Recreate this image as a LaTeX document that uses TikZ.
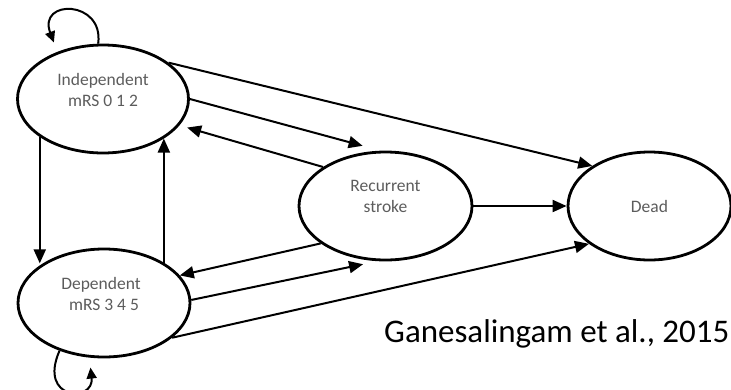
\documentclass[tikz,border=0pt]{standalone}
\usepackage{fontspec}
\setmainfont{Carlito}
\usetikzlibrary{shapes.geometric,arrows.meta}
\definecolor{txtgray}{HTML}{5C5C5C}
\begin{document}
\begin{tikzpicture}[x=1pt,y=1pt,
  state/.style={ellipse,draw,line width=2.8pt,inner sep=0pt,minimum height=108pt},
  lbl/.style={text=txtgray,align=center,font=\fontsize{17.5}{21}\selectfont},
  lblup/.style={lbl,yshift=9.5pt},
  edge/.style={line width=2pt,-{Triangle[length=14pt,width=12pt]}},
  loopedge/.style={line width=2pt,-{Triangle[length=11pt,width=10pt]}}]
\useasboundingbox (0,0) rectangle (731,-389);
\node[state,minimum width=171pt,label={[lblup]center:Independent\\mRS 0 1 2}] (ind) at (103,-99) {};
\node[state,minimum width=172pt,label={[lblup,xshift=-3pt]center:Dependent\\\hspace*{6pt}mRS 3 4 5}] (dep) at (104,-303) {};
\node[state,minimum width=173pt,label={[lblup]center:Recurrent\\stroke}] (rec) at (385.5,-206) {};
\node[state,minimum width=163pt,label={[lbl]center:Dead}] (dead) at (649.5,-206) {};
\node[anchor=west,inner sep=0pt,font=\fontsize{33}{36}\selectfont] (cite) at (384,-334) {Ganesalingam et al., 2015};
% edges
\draw[edge] (ind.29) -- (dead.145.6);
\draw[edge,shorten >=18.7pt] (ind.0) -- (rec.95.8);
\draw[edge,shorten >=8pt] (rec.148) -- (ind.-19.9);
\draw[edge] (ind.211.9) -- (ind.211.9 |- dep.147.2);
\draw[edge] (dep.34.6) -- (dep.34.6 |- ind.-33.5);
\draw[edge] (rec.210) -- (dep.20.2);
\draw[edge,shorten >=15pt] (dep.2) -- (rec.262.1);
\draw[edge] (dep.-27.7) -- (dead.212.6);
\draw[edge] (rec.east) -- (dead.west);
% self loops
\draw[loopedge,shorten >=10pt] (ind.95) .. controls +(6,44) and +(-20,53) .. (ind.134);
\draw[loopedge,shorten >=10pt] (dep.-133.5) .. controls +(-22,-50) and +(5,-45) .. (dep.-105);
\end{tikzpicture}
\end{document}
